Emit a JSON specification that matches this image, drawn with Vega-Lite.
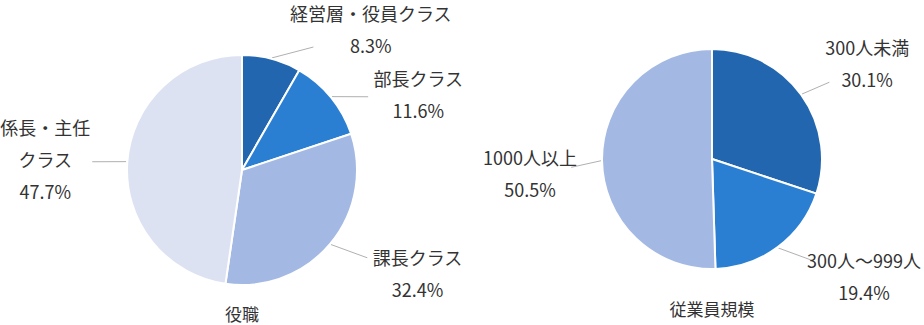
{
  "$schema": "https://vega.github.io/schema/vega-lite/v6.json",
  "padding": 0,
  "spacing": 29,
  "bounds": "flush",
  "background": "white",
  "config": {
    "view": {"stroke": null},
    "font": "Noto Sans CJK JP",
    "title": {"font": "Noto Sans CJK JP", "fontSize": 17, "fontWeight": "normal", "color": "#333333", "anchor": "middle"}
  },
  "resolve": {"scale": {"color": "independent", "theta": "independent", "x": "independent", "y": "independent"}},
  "hconcat": [
    {
      "width": 482,
      "height": 325,
      "title": {"text": "役職", "orient": "bottom", "offset": -17},
      "data": {"values": [
        {"name": "経営層・役員クラス", "v": 8.3, "o": 1},
        {"name": "部長クラス", "v": 11.6, "o": 2},
        {"name": "課長クラス", "v": 32.4, "o": 3},
        {"name": "係長・主任クラス", "v": 47.7, "o": 4}
      ]},
      "transform": [
        {"stack": "v", "groupby": [], "sort": [{"field": "o"}], "as": ["v0", "v1"]},
        {"calculate": "(datum.v0 + datum.v1) / 100 * PI", "as": "m"},
        {"calculate": "sin(datum.m) >= 0 ? 1 : -1", "as": "s"},
        {"calculate": "(datum.s < 0 ? replace(datum.name, '主任', '主任\\n') : datum.name) + '\\n' + format(datum.v, '.1f') + '%'", "as": "txt"},
        {"calculate": "length(split(datum.txt, '\\n'))", "as": "n"},
        {"calculate": "92 * sin(datum.m) + 105 * datum.s", "as": "lx"},
        {"calculate": "cos(datum.m) >= 0 ? 139.5 * pow(cos(datum.m), 1.6) + 6 : 170 * cos(datum.m) + 3", "as": "cy"},
        {"calculate": "datum.cy + (datum.n - 1) * 16", "as": "ly"},
        {"calculate": "116 * sin(datum.m)", "as": "ex"},
        {"calculate": "116 * cos(datum.m)", "as": "ey"},
        {"calculate": "datum.ex + 0.42 * (datum.lx - datum.ex)", "as": "tx"},
        {"calculate": "datum.ey + 0.42 * (datum.cy - datum.ey)", "as": "ty"}
      ],
      "layer": [
        {
          "mark": {"type": "rule", "color": "#b0b0b0", "strokeWidth": 1},
          "encoding": {
            "x": {"field": "ex", "type": "quantitative", "scale": {"domain": [-241, 241], "nice": false, "zero": false}, "axis": null},
            "y": {"field": "ey", "type": "quantitative", "scale": {"domain": [-155, 170], "nice": false, "zero": false}, "axis": null},
            "x2": {"field": "tx"},
            "y2": {"field": "ty"}
          }
        },
        {
          "mark": {"type": "arc", "outerRadius": 115, "stroke": "white", "strokeWidth": 2},
          "encoding": {
            "x": {"datum": 0, "type": "quantitative"},
            "y": {"datum": 0, "type": "quantitative"},
            "theta": {"field": "v0", "type": "quantitative", "scale": {"domain": [0, 100]}},
            "theta2": {"field": "v1"},
            "color": {
              "field": "name", "type": "nominal", "legend": null,
              "scale": {"domain": ["経営層・役員クラス", "部長クラス", "課長クラス", "係長・主任クラス"], "range": ["#2266B0", "#2B7FD3", "#A3B9E3", "#DCE2F2"]}
            }
          }
        },
        {
          "mark": {"type": "text", "fontSize": 18, "lineBreak": "\n", "lineHeight": 32, "align": "center", "baseline": "middle", "color": "#333333"},
          "encoding": {
            "x": {"field": "lx", "type": "quantitative"},
            "y": {"field": "ly", "type": "quantitative"},
            "text": {"field": "txt"}
          }
        }
      ]
    },
    {
      "width": 400,
      "height": 325,
      "title": {"text": "従業員規模", "orient": "bottom", "offset": -22},
      "data": {"values": [
        {"name": "300人未満", "v": 30.1, "o": 1},
        {"name": "300人～999人", "v": 19.4, "o": 2},
        {"name": "1000人以上", "v": 50.5, "o": 3}
      ]},
      "transform": [
        {"stack": "v", "groupby": [], "sort": [{"field": "o"}], "as": ["v0", "v1"]},
        {"calculate": "(datum.v0 + datum.v1) / 100 * PI", "as": "m"},
        {"calculate": "sin(datum.m) >= 0 ? 1 : -1", "as": "s"},
        {"calculate": "datum.name + '\\n' + format(datum.v, '.1f') + '%'", "as": "txt"},
        {"calculate": "length(split(datum.txt, '\\n'))", "as": "n"},
        {"calculate": "15 * sin(datum.m) + (datum.s > 0 ? 143 : -167)", "as": "lx"},
        {"calculate": "154 * cos(datum.m) + (datum.s > 0 ? 3 : -15)", "as": "cy"},
        {"calculate": "datum.cy + (datum.n - 1) * 16", "as": "ly"},
        {"calculate": "111 * sin(datum.m)", "as": "ex"},
        {"calculate": "111 * cos(datum.m)", "as": "ey"},
        {"calculate": "datum.ex + 0.42 * (datum.lx - datum.ex)", "as": "tx"},
        {"calculate": "datum.ey + 0.42 * (datum.cy - datum.ey)", "as": "ty"}
      ],
      "layer": [
        {
          "mark": {"type": "rule", "color": "#b0b0b0", "strokeWidth": 1},
          "encoding": {
            "x": {"field": "ex", "type": "quantitative", "scale": {"domain": [-200, 200], "nice": false, "zero": false}, "axis": null},
            "y": {"field": "ey", "type": "quantitative", "scale": {"domain": [-166, 159], "nice": false, "zero": false}, "axis": null},
            "x2": {"field": "tx"},
            "y2": {"field": "ty"}
          }
        },
        {
          "mark": {"type": "arc", "outerRadius": 110, "stroke": "white", "strokeWidth": 2},
          "encoding": {
            "x": {"datum": 0, "type": "quantitative"},
            "y": {"datum": 0, "type": "quantitative"},
            "theta": {"field": "v0", "type": "quantitative", "scale": {"domain": [0, 100]}},
            "theta2": {"field": "v1"},
            "color": {
              "field": "name", "type": "nominal", "legend": null,
              "scale": {"domain": ["300人未満", "300人～999人", "1000人以上"], "range": ["#2266B0", "#2B7FD3", "#A3B9E3"]}
            }
          }
        },
        {
          "mark": {"type": "text", "fontSize": 18, "lineBreak": "\n", "lineHeight": 32, "align": "center", "baseline": "middle", "color": "#333333"},
          "encoding": {
            "x": {"field": "lx", "type": "quantitative"},
            "y": {"field": "ly", "type": "quantitative"},
            "text": {"field": "txt"}
          }
        }
      ]
    }
  ]
}
